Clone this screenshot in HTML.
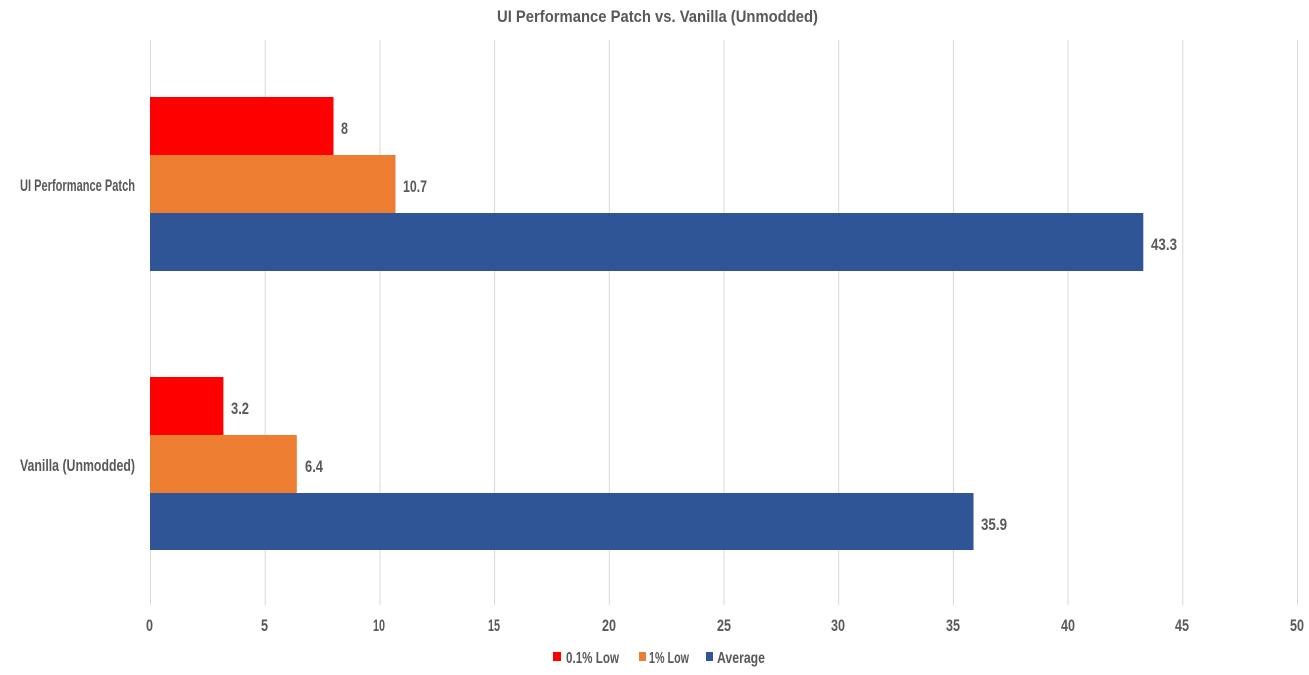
<!DOCTYPE html>
<html><head><style>
body{margin:0;background:#fff;width:1309px;height:670px;overflow:hidden}
text{font-family:"Liberation Sans",sans-serif;font-weight:bold;fill:#595959}
</style></head><body>
<svg width="1309" height="670" xmlns="http://www.w3.org/2000/svg">
<text x="497" y="22" font-size="17" textLength="321" lengthAdjust="spacingAndGlyphs">UI Performance Patch vs. Vanilla (Unmodded)</text>
<g stroke="#d9d9d9" stroke-width="1">
<line x1="150.5" y1="40" x2="150.5" y2="605"/>
<line x1="265.2" y1="40" x2="265.2" y2="605"/>
<line x1="379.9" y1="40" x2="379.9" y2="605"/>
<line x1="494.6" y1="40" x2="494.6" y2="605"/>
<line x1="609.3" y1="40" x2="609.3" y2="605"/>
<line x1="724" y1="40" x2="724" y2="605"/>
<line x1="838.7" y1="40" x2="838.7" y2="605"/>
<line x1="953.4" y1="40" x2="953.4" y2="605"/>
<line x1="1068.1" y1="40" x2="1068.1" y2="605"/>
<line x1="1182.8" y1="40" x2="1182.8" y2="605"/>
<line x1="1297.5" y1="40" x2="1297.5" y2="605"/>
</g>
<rect x="150" y="97" width="183.5" height="58" fill="#ff0000"/>
<rect x="150" y="155" width="245.5" height="58" fill="#ed7d31"/>
<rect x="150" y="213" width="993.3" height="58" fill="#2f5597"/>
<rect x="150" y="377" width="73.4" height="58" fill="#ff0000"/>
<rect x="150" y="435" width="146.8" height="58" fill="#ed7d31"/>
<rect x="150" y="493" width="823.5" height="57" fill="#2f5597"/>
<g font-size="17">
<text x="341" y="134" textLength="7" lengthAdjust="spacingAndGlyphs">8</text>
<text x="403" y="192" textLength="24" lengthAdjust="spacingAndGlyphs">10.7</text>
<text x="1151" y="250" textLength="26" lengthAdjust="spacingAndGlyphs">43.3</text>
<text x="231" y="414" textLength="18" lengthAdjust="spacingAndGlyphs">3.2</text>
<text x="305" y="472" textLength="18" lengthAdjust="spacingAndGlyphs">6.4</text>
<text x="981" y="530" textLength="26" lengthAdjust="spacingAndGlyphs">35.9</text>
<text x="20" y="191" textLength="115" lengthAdjust="spacingAndGlyphs">UI Performance Patch</text>
<text x="20" y="471" textLength="115" lengthAdjust="spacingAndGlyphs">Vanilla (Unmodded)</text>
</g>
<g font-size="17">
<text x="146" y="631" textLength="7" lengthAdjust="spacingAndGlyphs">0</text>
<text x="261" y="631" textLength="7" lengthAdjust="spacingAndGlyphs">5</text>
<text x="373" y="631" textLength="12" lengthAdjust="spacingAndGlyphs">10</text>
<text x="488" y="631" textLength="12" lengthAdjust="spacingAndGlyphs">15</text>
<text x="602" y="631" textLength="14" lengthAdjust="spacingAndGlyphs">20</text>
<text x="717" y="631" textLength="14" lengthAdjust="spacingAndGlyphs">25</text>
<text x="831" y="631" textLength="14" lengthAdjust="spacingAndGlyphs">30</text>
<text x="946" y="631" textLength="14" lengthAdjust="spacingAndGlyphs">35</text>
<text x="1061" y="631" textLength="14" lengthAdjust="spacingAndGlyphs">40</text>
<text x="1175" y="631" textLength="14" lengthAdjust="spacingAndGlyphs">45</text>
<text x="1290" y="631" textLength="14" lengthAdjust="spacingAndGlyphs">50</text>
</g>
<g font-size="16">
<rect x="553" y="652" width="8" height="9" fill="#ff0000"/>
<text x="566" y="663" textLength="53" lengthAdjust="spacingAndGlyphs">0.1% Low</text>
<rect x="639" y="652" width="7" height="9" fill="#ed7d31"/>
<text x="649" y="663" textLength="40" lengthAdjust="spacingAndGlyphs">1% Low</text>
<rect x="706" y="652" width="7" height="9" fill="#2f5597"/>
<text x="717" y="663" textLength="48" lengthAdjust="spacingAndGlyphs">Average</text>
</g>
</svg>
</body></html>
